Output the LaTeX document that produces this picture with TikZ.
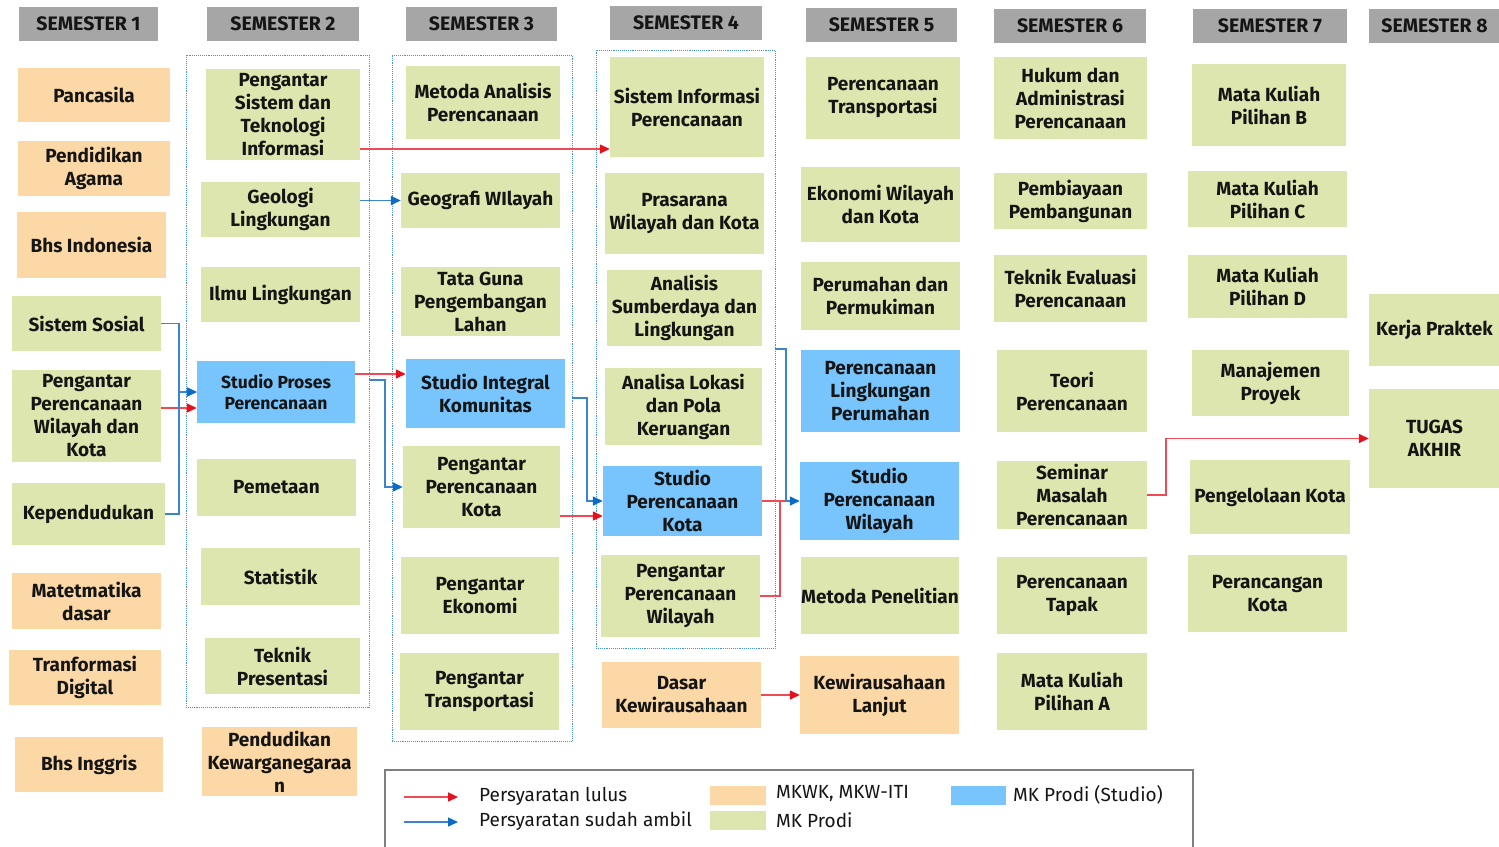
\documentclass[tikz,border=0pt]{standalone}
\usepackage{fontspec}
\setmainfont{Fira Sans}
\usetikzlibrary{arrows.meta}

\definecolor{wajiborange}{HTML}{FBD8A6}
\definecolor{prodigreen}{HTML}{DEE6AF}
\definecolor{studioblue}{HTML}{78C4FD}
\definecolor{headgray}{HTML}{A6A6A6}
\definecolor{textblack}{HTML}{151515}
\definecolor{groupblue}{HTML}{4A90D9}
\definecolor{lulusline}{HTML}{EE4B57}
\definecolor{lulustip}{HTML}{E3121E}
\definecolor{ambilline}{HTML}{3A85CC}
\definecolor{ambiltip}{HTML}{0A6CC4}
\definecolor{legendgray}{HTML}{7F7F7F}

\tikzset{
  sz/.style 2 args={minimum width=#1pt, minimum height=#2pt},
  prodi/.style={fill=prodigreen, inner sep=0pt, align=center, text=textblack,
    font=\bfseries\fontsize{19}{23}\selectfont},
  wajib/.style={prodi, fill=wajiborange},
  studio/.style={prodi, fill=studioblue},
  semhead/.style={fill=headgray, inner sep=0pt, text=textblack,
    font=\bfseries\fontsize{19.5}{22}\selectfont},
  semgroup/.style={draw=groupblue, densely dotted, line width=0.9pt, inner sep=0pt},
  lulus/.style={draw=lulusline, line width=1.4pt,
    -{Triangle[length=10pt,width=9pt,color=lulustip]}},
  lulusplain/.style={draw=lulusline, line width=1.4pt},
  ambil/.style={draw=ambilline, line width=1.4pt,
    -{Triangle[length=10pt,width=9pt,color=ambiltip]}},
  legtext/.style={anchor=west, inner sep=0pt, text=textblack,
    font=\fontsize{19}{22}\selectfont},
}

\begin{document}
\begin{tikzpicture}[x=1pt,y=-1pt]
\path[use as bounding box, fill=white] (0,0) rectangle (1499,846);

% semester headers
\node[semhead, sz={139}{34}] (h1) at (88.5,24) {SEMESTER 1};
\node[semhead, sz={152}{34}] (h2) at (283,24) {SEMESTER 2};
\node[semhead, sz={151}{34}] (h3) at (481.5,24) {SEMESTER 3};
\node[semhead, sz={152}{34}] (h4) at (686,23) {SEMESTER 4};
\node[semhead, sz={151}{34}] (h5) at (881.5,25) {SEMESTER 5};
\node[semhead, sz={152}{34}] (h6) at (1070,26) {SEMESTER 6};
\node[semhead, sz={154}{34}] (h7) at (1270,26) {SEMESTER 7};
\node[semhead, sz={131}{34}] (h8) at (1434.5,26) {SEMESTER 8};

% dotted groups
\node[semgroup, sz={183}{652}] (box2) at (277.5,381) {};
\node[semgroup, sz={180}{686}] (box3) at (482,398) {};
\node[semgroup, sz={179}{598}] (box4) at (685.5,349) {};

% semester 1
\node[wajib, sz={152}{54}] (pancasila) at (94,95) {Pancasila};
\node[wajib, sz={152}{55}] (agama) at (94,168.5) {Pendidikan\\Agama};
\node[wajib, sz={149}{66}] (bindo) at (91.5,245) {Bhs Indonesia};
\node[prodi, sz={149}{55}] (sossos) at (86.5,323.5) {Sistem Sosial};
\node[prodi, sz={149}{92}] (ppwk) at (86.5,416) {Pengantar\\Perencanaan\\Wilayah dan\\Kota};
\node[prodi, sz={153}{62}] (kepend) at (88.5,514) {Kependudukan};
\node[wajib, sz={149}{56}] (matdas) at (86.5,601) {Matetmatika\\dasar};
\node[wajib, sz={152}{55}] (tdig) at (85,677.5) {Tranformasi\\Digital};
\node[wajib, sz={148}{55}] (binggris) at (89,764.5) {Bhs Inggris};

% semester 2
\node[prodi, sz={154}{91}] (psti) at (283,114.5) {Pengantar\\Sistem dan\\Teknologi\\Informasi};
\node[prodi, sz={159}{55}] (geologi) at (280.5,209.5) {Geologi\\Lingkungan};
\node[prodi, sz={159}{55}] (ilmuling) at (280.5,294.5) {Ilmu Lingkungan};
\node[studio, sz={158}{62}, font=\bfseries\fontsize{17.5}{21}\selectfont] (spp) at (276,392) {Studio Proses\\Perencanaan};
\node[prodi, sz={159}{57}] (pemetaan) at (276.5,487.5) {Pemetaan};
\node[prodi, sz={159}{57}] (statistik) at (280.5,576.5) {Statistik};
\node[prodi, sz={155}{56}] (tekpres) at (282.5,666) {Teknik\\Presentasi};
\node[wajib, sz={155}{69}] (pkn) at (279.5,761.5) {Pendudikan\\Kewarganegaraa\\n};

% semester 3
\node[prodi, sz={154}{73}] (mapr) at (483,102.5) {Metoda Analisis\\Perencanaan};
\node[prodi, sz={159}{55}] (geowil) at (480.5,200.5) {Geografi WIlayah};
\node[prodi, sz={159}{69}] (tgpl) at (480.5,301.5) {Tata Guna\\Pengembangan\\Lahan};
\node[studio, sz={159}{69}] (sik) at (485.5,393.5) {Studio Integral\\Komunitas};
\node[prodi, sz={157}{82}] (ppk) at (481.5,487) {Pengantar\\Perencanaan\\Kota};
\node[prodi, sz={158}{77}] (pekon) at (480,595.5) {Pengantar\\Ekonomi};
\node[prodi, sz={159}{77}] (ptrans) at (479.5,691.5) {Pengantar\\Transportasi};

% semester 4
\node[prodi, sz={154}{100}] (sip) at (687,107) {Sistem Informasi\\Perencanaan};
\node[prodi, sz={159}{81}] (pwk) at (684.5,213.5) {Prasarana\\Wilayah dan Kota};
\node[prodi, sz={155}{76}] (asl) at (684.5,308) {Analisis\\Sumberdaya dan\\Lingkungan};
\node[prodi, sz={157}{77}] (alpk) at (683.5,406.5) {Analisa Lokasi\\dan Pola\\Keruangan};
\node[studio, sz={159}{70}] (spk) at (682.5,501) {Studio\\Perencanaan\\Kota};
\node[prodi, sz={159}{82}] (ppw) at (680.5,596) {Pengantar\\Perencanaan\\Wilayah};
\node[wajib, sz={159}{66}] (dk) at (681.5,695) {Dasar\\Kewirausahaan};

% semester 5
\node[prodi, sz={154}{82}] (pertrans) at (883,98) {Perencanaan\\Transportasi};
\node[prodi, sz={159}{75}] (ewk) at (880.5,204.5) {Ekonomi Wilayah\\dan Kota};
\node[prodi, sz={159}{68}] (perum) at (880.5,296) {Perumahan dan\\Permukiman};
\node[studio, sz={159}{82}] (plp) at (880.5,391) {Perencanaan\\Lingkungan\\Perumahan};
\node[studio, sz={159}{78}] (spw) at (879.5,501) {Studio\\Perencanaan\\Wilayah};
\node[prodi, sz={158}{77}] (metpen) at (880,595.5) {Metoda Penelitian};
\node[wajib, sz={159}{78}] (kl) at (879.5,695) {Kewirausahaan\\Lanjut};

% semester 6
\node[prodi, sz={153}{82}] (hap) at (1070.5,98) {Hukum dan\\Administrasi\\Perencanaan};
\node[prodi, sz={153}{56}] (pemb) at (1070.5,201) {Pembiayaan\\Pembangunan};
\node[prodi, sz={153}{67}] (tep) at (1070.5,288.5) {Teknik Evaluasi\\Perencanaan};
\node[prodi, sz={150}{82}] (teori) at (1072,391) {Teori\\Perencanaan};
\node[prodi, sz={150}{68}] (smp) at (1072,495) {Seminar\\Masalah\\Perencanaan};
\node[prodi, sz={150}{77}] (ptapak) at (1072,595.5) {Perencanaan\\Tapak};
\node[prodi, sz={150}{77}] (mkpa) at (1072,691.5) {Mata Kuliah\\Pilihan A};

% semester 7
\node[prodi, sz={154}{82}] (mkpb) at (1269,105) {Mata Kuliah\\Pilihan B};
\node[prodi, sz={159}{56}] (mkpc) at (1267.5,199) {Mata Kuliah\\Pilihan C};
\node[prodi, sz={159}{63}] (mkpd) at (1267.5,286.5) {Mata Kuliah\\Pilihan D};
\node[prodi, sz={157}{66}] (mproyek) at (1270.5,383) {Manajemen\\Proyek};
\node[prodi, sz={160}{74}] (pkota) at (1270,497) {Pengelolaan Kota};
\node[prodi, sz={159}{77}] (perkota) at (1267.5,593.5) {Perancangan\\Kota};

% semester 8
\node[prodi, sz={131}{72}] (kp) at (1434.5,330) {Kerja Praktek};
\node[prodi, sz={131}{99}] (ta) at (1434.5,438.5) {TUGAS\\AKHIR};

% persyaratan lulus
\draw[lulus] (psti.east |- 0,149) -- (sip.west |- 0,149);
\draw[lulus] (ppwk.east |- 0,408) -- (spp.west |- 0,408);
\draw[lulus] (spp.east |- 0,374) -- (sik.west |- 0,374);
\draw[lulus] (ppk.east |- 0,516) -- (spk.west |- 0,516);
\draw[lulus] (dk.east) -- (kl.west);
\draw[lulus] (smp.east) -- (1166,495) |- (ta.west);
\draw[lulusplain] (spk.east) -- (786,501);
\draw[lulusplain] (ppw.east) -| (780,501);

% persyaratan sudah ambil
\draw[ambil] (sossos.east) -- (179,323.5) |- (spp.west);
\draw[ambil] (kepend.east) -- (179,514) |- (spp.west);
\draw[ambil] (geologi.east |- geowil.west) -- (geowil.west);
\draw[ambil] (box2.east |- 0,380) -- (385,380) |- (ppk.west);
\draw[ambil] (box3.east |- 0,398) -- (587,398) |- (spk.west);
\draw[ambil] (box4.east |- 0,349) -- (786,349) |- (spw.west);

% legend
\draw[legendgray, line width=1.5pt] (385,770) rectangle (1193,870);
\coordinate (lgred) at (404,797);
\draw[lulus] (lgred) -- ++(54,0);
\node[legtext] (lgredtext) at (479,796) {Persyaratan lulus};
\coordinate (lgblue) at (404,822);
\draw[ambil] (lgblue) -- ++(54,0);
\node[legtext] (lgbluetext) at (479,821) {Persyaratan sudah ambil};
\node[fill=wajiborange, inner sep=0pt, sz={56}{19}] (sworange) at (738,795.5) {};
\node[legtext] (sworangetext) at (776,794) {MKWK, MKW-ITI};
\node[fill=prodigreen, inner sep=0pt, sz={56}{19}] (swgreen) at (738,820.5) {};
\node[legtext] (swgreentext) at (776,820) {MK Prodi};
\node[fill=studioblue, inner sep=0pt, sz={55}{19}] (swblue) at (978.5,795.5) {};
\node[legtext] (swbluetext) at (1013,795) {MK Prodi (Studio)};
\end{tikzpicture}
\end{document}
